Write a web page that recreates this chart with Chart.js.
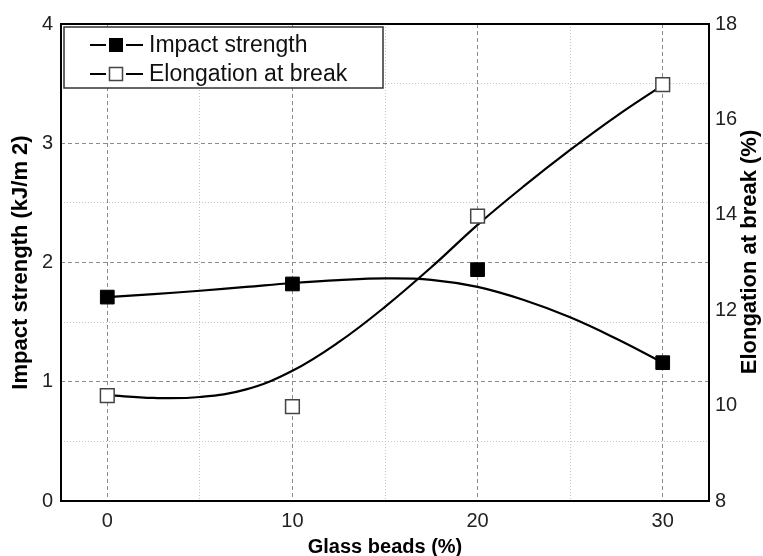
<!DOCTYPE html>
<html>
<head>
<meta charset="utf-8">
<script src="https://cdn.jsdelivr.net/npm/chart.js@4.4.1/dist/chart.umd.min.js"></script>
<style>
html,body{margin:0;padding:0;background:#fff;}
#wrap{width:763px;height:556px;}
</style>
</head>
<body>
<div id="wrap"><canvas id="c" width="763" height="556"></canvas></div>
<script>
// ---- data ----
const seriesNames = ['Impact strength', 'Elongation at break'];
const xTitle = 'Glass beads (%)';
const yLeftTitle = 'Impact strength (kJ/m 2)';
const yRightTitle = 'Elongation at break (%)';

const glassBeads = [0, 10, 20, 30];
const impactStrength = [1.71, 1.82, 1.94, 1.16];
const elongationAtBreak = [10.21, 9.98, 13.97, 16.73];

// fitted trend curves
const curveX = [0, 2.5, 5, 7.5, 10, 12.5, 15, 17.5, 20, 22.5, 25, 27.5, 30];
const impactCurve = [1.71, 1.735, 1.763, 1.795, 1.828, 1.853, 1.867, 1.855, 1.795, 1.685, 1.54, 1.36, 1.16];
const elongationCurve = [10.22, 10.16, 10.18, 10.34, 10.73, 11.33, 12.07, 12.9, 13.79, 14.6, 15.36, 16.07, 16.72];

const xTicks = [0, 10, 20, 30];
const xMinorTicks = [5, 15, 25];
const leftTicks = [0, 1, 2, 3, 4];
const leftMinorTicks = [0.5, 1.5, 2.5, 3.5];
const rightTicks = [8, 10, 12, 14, 16, 18];

// ---- chart ----
const F = "'Liberation Sans', Arial, sans-serif";
const setTicks = arr => scale => { scale.ticks = arr.map(v => ({ value: v })); };

const framePlugin = {
  id: 'frame',
  afterDatasetsDraw(chart) {
    const { ctx, chartArea: a } = chart;
    ctx.save();
    // legend box
    const lx = 64, ly = 27, lw = 319, lh = 61;
    ctx.fillStyle = '#fff';
    ctx.fillRect(lx, ly, lw, lh);
    ctx.strokeStyle = '#333';
    ctx.lineWidth = 1.5;
    ctx.strokeRect(lx, ly, lw, lh);
    const rows = [
      { y: 45, fill: '#000', stroke: '#000', lw: 1 },
      { y: 74, fill: '#fff', stroke: '#444', lw: 1.5 }
    ];
    rows.forEach((r, i) => {
      ctx.strokeStyle = '#000';
      ctx.lineWidth = 2;
      ctx.beginPath();
      ctx.moveTo(90, r.y); ctx.lineTo(106, r.y);
      ctx.moveTo(126, r.y); ctx.lineTo(143, r.y);
      ctx.stroke();
      ctx.fillStyle = r.fill;
      ctx.fillRect(109.5, r.y - 6.5, 13, 13);
      ctx.strokeStyle = r.stroke;
      ctx.lineWidth = r.lw;
      ctx.strokeRect(109.5, r.y - 6.5, 13, 13);
      ctx.fillStyle = '#111';
      ctx.font = '23px ' + F;
      ctx.textBaseline = 'middle';
      ctx.textAlign = 'left';
      ctx.fillText(chart.data.datasets[i].label, 149, r.y + 1);
    });
    // plot frame
    ctx.strokeStyle = '#000';
    ctx.lineWidth = 2;
    ctx.strokeRect(a.left, a.top, a.right - a.left, a.bottom - a.top);
    ctx.restore();
  },
  afterDraw(chart) {
    const { ctx } = chart;
    ctx.save();
    ctx.translate(750, 252);
    ctx.rotate(-Math.PI / 2);
    ctx.font = 'bold 22px ' + F;
    ctx.fillStyle = '#000';
    ctx.textAlign = 'center';
    ctx.textBaseline = 'middle';
    ctx.fillText(chart.options.scales.y1.title.text, 0, 0);
    ctx.restore();
  }
};

new Chart(document.getElementById('c'), {
  type: 'scatter',
  data: {
    datasets: [
      {
        label: seriesNames[0],
        data: glassBeads.map((x, i) => ({ x, y: impactStrength[i] })),
        xAxisID: 'x', yAxisID: 'y',
        pointStyle: 'rect', pointRadius: 9.7,
        backgroundColor: '#000', borderColor: '#000', borderWidth: 1,
        showLine: false, order: 0
      },
      {
        label: seriesNames[1],
        data: glassBeads.map((x, i) => ({ x, y: elongationAtBreak[i] })),
        xAxisID: 'x', yAxisID: 'y1',
        pointStyle: 'rect', pointRadius: 9.7,
        backgroundColor: '#fff', borderColor: '#444', borderWidth: 1.5,
        showLine: false, order: 0
      },
      {
        label: seriesNames[0] + ' fit', type: 'line',
        data: curveX.map((x, i) => ({ x, y: impactCurve[i] })),
        xAxisID: 'x', yAxisID: 'y',
        borderColor: '#000', borderWidth: 2.2, pointRadius: 0,
        tension: 0.4, fill: false, order: 1
      },
      {
        label: seriesNames[1] + ' fit', type: 'line',
        data: curveX.map((x, i) => ({ x, y: elongationCurve[i] })),
        xAxisID: 'x', yAxisID: 'y1',
        borderColor: '#000', borderWidth: 2.2, pointRadius: 0,
        tension: 0.4, fill: false, order: 1
      }
    ]
  },
  options: {
    responsive: false,
    animation: false,
    devicePixelRatio: 1,
    layout: { padding: { top: 24, left: 0, right: 0, bottom: 0 } },
    plugins: { legend: { display: false }, tooltip: { enabled: false } },
    scales: {
      x: {
        type: 'linear', position: 'bottom', min: -2.5, max: 32.5,
        afterBuildTicks: setTicks(xTicks),
        ticks: { font: { family: F, size: 20 }, color: '#222', padding: 8, callback: v => String(v) },
        grid: { color: '#8c8c8c', lineWidth: 1, drawTicks: false },
        border: { display: false, dash: [4, 3] },
        title: { display: true, text: xTitle, color: '#000', font: { family: F, size: 20, weight: 'bold' }, padding: { top: 0, bottom: -3 } },
        afterFit: s => { s.height = 55; }
      },
      xMinor: {
        type: 'linear', position: 'bottom', min: -2.5, max: 32.5,
        afterBuildTicks: setTicks(xMinorTicks),
        ticks: { display: false },
        grid: { color: '#c4c4c4', lineWidth: 1, drawTicks: false },
        border: { display: false, dash: [1, 2] },
        afterFit: s => { s.height = 0; }
      },
      y: {
        type: 'linear', position: 'left', min: 0, max: 4,
        afterBuildTicks: setTicks(leftTicks),
        ticks: { font: { family: F, size: 20 }, color: '#222', padding: 8, callback: v => String(v) },
        grid: { color: '#8c8c8c', lineWidth: 1, drawTicks: false },
        border: { display: false, dash: [4, 3] },
        title: { display: true, text: yLeftTitle, color: '#000', font: { family: F, size: 22, weight: 'bold' }, padding: { top: 8, bottom: 0 } },
        afterFit: s => { s.width = 61; }
      },
      yMinor: {
        type: 'linear', position: 'left', min: 0, max: 4,
        afterBuildTicks: setTicks(leftMinorTicks),
        ticks: { display: false },
        grid: { color: '#c4c4c4', lineWidth: 1, drawTicks: false },
        border: { display: false, dash: [1, 2] },
        afterFit: s => { s.width = 0; }
      },
      y1: {
        type: 'linear', position: 'right', min: 8, max: 18,
        afterBuildTicks: setTicks(rightTicks),
        ticks: { font: { family: F, size: 20 }, color: '#222', padding: 6, callback: v => String(v) },
        grid: { display: false, drawTicks: false },
        border: { display: false },
        title: { display: false, text: yRightTitle },
        afterFit: s => { s.width = 54; }
      }
    }
  },
  plugins: [framePlugin]
});
</script>
</body>
</html>
